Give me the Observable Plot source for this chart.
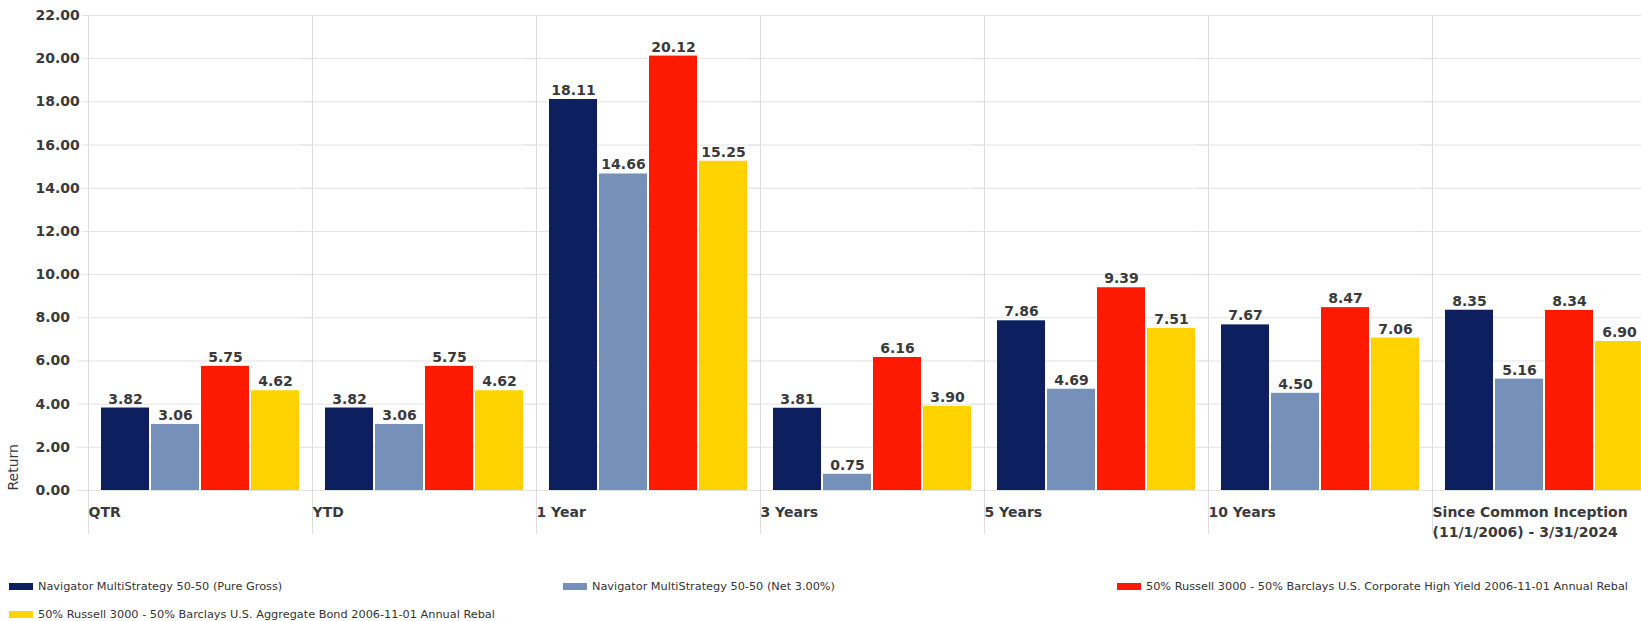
<!DOCTYPE html>
<html>
<head>
<meta charset="utf-8">
<script src="https://cdn.jsdelivr.net/npm/d3@7"></script>
<script src="https://cdn.jsdelivr.net/npm/@observablehq/plot@0.6"></script>
<style>
  html, body { margin: 0; padding: 0; background: #fff; overflow: hidden; }
  #chart { position: relative; width: 1641px; height: 621px; overflow: hidden; }
  #chart svg { display: block; }
  #chart .ret-swatches { position: absolute; left: 9px; top: 572px; width: 1700px; margin: 0;
    font-family: "DejaVu Sans", sans-serif; font-size: 11.3px; line-height: 13px; color: #333; }
  #chart .ret-swatches .ret-swatch { width: 554px; height: 28px; margin: 0; }
  #chart .ret-swatches .ret-swatch > svg { margin-right: 5px; }
</style>
</head>
<body>
<div id="chart"></div>
<script>
// Return periods (one group of bars each)
const categories = [
  "QTR",
  "YTD",
  "1 Year",
  "3 Years",
  "5 Years",
  "10 Years",
  "Since Common Inception\n(11/1/2006) - 3/31/2024"
];

// Series shown in every group
const seriesNames = [
  "Navigator MultiStrategy 50-50 (Pure Gross)",
  "Navigator MultiStrategy 50-50 (Net 3.00%)",
  "50% Russell 3000 - 50% Barclays U.S. Corporate High Yield 2006-11-01 Annual Rebal",
  "50% Russell 3000 - 50% Barclays U.S. Aggregate Bond 2006-11-01 Annual Rebal"
];
const seriesColors = ["#0d1f5e", "#7691b9", "#fe1a00", "#ffd300"];

// Returns (%) per period
const pureGross  = [3.82, 3.82, 18.11, 3.81, 7.86, 7.67, 8.35];
const net        = [3.06, 3.06, 14.66, 0.75, 4.69, 4.50, 5.16];
const highYield  = [5.75, 5.75, 20.12, 6.16, 9.39, 8.47, 8.34];
const aggBond    = [4.62, 4.62, 15.25, 3.90, 7.51, 7.06, 6.90];
const seriesValues = [pureGross, net, highYield, aggBond];

// Value axis ticks
const yTicks = [0, 2, 4, 6, 8, 10, 12, 14, 16, 18, 20, 22];

const rows = categories.flatMap((category, i) =>
  seriesNames.map((series, j) => ({category, series, value: seriesValues[j][i]}))
);

const fmt = d3.format(".2f");
const plotLeft = 88;
const groupWidth = 224;
const textColor = "#3a3a3a";

const chart = Plot.plot({
  width: 1641,
  height: 621,
  marginTop: 15,
  marginBottom: 131,
  marginLeft: plotLeft,
  marginRight: 0,
  style: {fontFamily: "DejaVu Sans, sans-serif", background: "white", color: textColor},
  fx: {
    domain: categories,
    range: [plotLeft, plotLeft + categories.length * groupWidth],
    padding: 0,
    axis: null
  },
  x: {domain: seriesNames, paddingInner: 0.05, paddingOuter: 0.24, axis: null},
  y: {domain: [0, 22], axis: null},
  color: {domain: seriesNames, range: seriesColors},
  marks: [
    // horizontal grid, reaching a little left of the value axis
    Plot.ruleY(yTicks, {stroke: "#e3e3e3", insetLeft: -11}),
    // group separators, extending below the category axis
    Plot.frame({anchor: "left", stroke: "#dcdcdc", insetBottom: -43}),
    Plot.barY(rows, {fx: "category", x: "series", y: "value", fill: "series"}),
    Plot.text(rows, {
      fx: "category", x: "series", y: "value",
      text: (d) => fmt(d.value),
      dy: -9, fontSize: 14, fontWeight: "bold", fill: textColor
    }),
    // category labels, left-aligned under each group
    Plot.text(categories, {
      fx: (d) => d, text: (d) => d,
      frameAnchor: "bottom-left", textAnchor: "start", lineAnchor: "top",
      dy: 12, lineHeight: 1.43, fontSize: 14, fontWeight: "bold", fill: textColor
    }),
    // value axis labels
    Plot.text(yTicks, {
      fx: () => categories[0], y: (d) => d, text: (d) => fmt(d),
      frameAnchor: "left", textAnchor: "start", dx: -53,
      fontSize: 14, fontWeight: "bold", fill: textColor,
      stroke: "white", strokeWidth: 5, paintOrder: "stroke"
    }),
    // value axis title
    Plot.text(["Return"], {
      fx: () => categories[0], text: (d) => d,
      frameAnchor: "bottom-left", rotate: -90, textAnchor: "start",
      dx: -71, fontSize: 14, fill: textColor
    })
  ]
});

const host = document.getElementById("chart");
host.appendChild(chart);
host.appendChild(chart.legend("color", {swatchWidth: 24, swatchHeight: 7, className: "ret"}));
</script>
</body>
</html>
